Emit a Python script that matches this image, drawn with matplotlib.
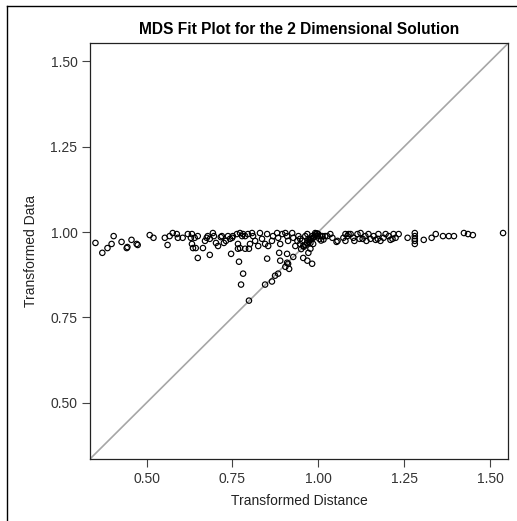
import matplotlib.pyplot as plt
from matplotlib.lines import Line2D

plt.rcParams['font.family'] = ['Liberation Sans', 'DejaVu Sans']

# values
transformed_distance = [
    0.351, 0.371, 0.386, 0.398, 0.404, 0.427, 0.442, 0.444, 0.456, 0.471,
    0.474, 0.509, 0.520, 0.553, 0.561, 0.567, 0.576, 0.588, 0.591, 0.605,
    0.620, 0.629, 0.632, 0.635,
    0.632, 0.640, 0.649, 0.643, 0.649, 0.664, 0.670, 0.675, 0.678, 0.684,
    0.684, 0.693, 0.696, 0.702, 0.708, 0.716, 0.719, 0.725, 0.731, 0.737,
    0.743, 0.746, 0.749, 0.751, 0.763, 0.766, 0.766, 0.769, 0.772, 0.772,
    0.778, 0.781, 0.781, 0.775, 0.787, 0.787, 0.795, 0.798, 0.798, 0.801,
    0.807, 0.810, 0.816, 0.825, 0.830, 0.836, 0.845, 0.845, 0.851, 0.851,
    0.854, 0.865, 0.865, 0.868, 0.874, 0.880, 0.883, 0.883, 0.886, 0.889,
    0.889, 0.895, 0.904, 0.904, 0.909, 0.909, 0.909, 0.912, 0.912, 0.915,
    0.924, 0.927, 0.927, 0.933, 0.939, 0.942, 0.947, 0.947, 0.953, 0.956,
    0.956, 0.962, 0.968, 0.968, 0.971, 0.971, 0.977, 0.977, 0.982, 0.982,
    0.985, 0.985, 0.991, 0.997,
    0.950, 0.958, 0.963, 0.967, 0.972, 0.975, 0.979, 0.983, 0.988, 0.992,
    0.996, 1.000, 1.006, 1.012, 1.020, 1.003, 1.008, 1.015,
    1.026, 1.035, 1.041, 1.053, 1.056, 1.073, 1.079, 1.079, 1.085, 1.088,
    1.094, 1.102, 1.105, 1.114, 1.120, 1.123, 1.129, 1.137, 1.140, 1.146,
    1.152, 1.161, 1.167, 1.173, 1.175, 1.181, 1.190, 1.196, 1.205, 1.210,
    1.216, 1.219, 1.225, 1.234, 1.260, 1.281, 1.281, 1.281, 1.281, 1.281,
    1.307, 1.330, 1.342, 1.363, 1.380, 1.395, 1.424, 1.436, 1.450, 1.538,
]
transformed_data = [
    0.968, 0.939, 0.953, 0.965, 0.988, 0.971, 0.953, 0.956, 0.977, 0.965,
    0.962, 0.991, 0.983, 0.983, 0.962, 0.988, 0.997, 0.994, 0.983, 0.983,
    0.994, 0.983, 0.965, 0.953,
    0.994, 0.983, 0.988, 0.953, 0.924, 0.953, 0.974, 0.983, 0.988, 0.980,
    0.933, 0.997, 0.988, 0.968, 0.959, 0.985, 0.988, 0.968, 0.974, 0.988,
    0.980, 0.936, 0.983, 0.988, 0.994, 0.965, 0.951, 0.913, 0.997, 0.953,
    0.988, 0.994, 0.878, 0.846, 0.988, 0.951, 0.994, 0.951, 0.799, 0.965,
    0.997, 0.988, 0.974, 0.959, 0.997, 0.980, 0.965, 0.846, 0.994, 0.922,
    0.959, 0.974, 0.855, 0.988, 0.872, 0.997, 0.983, 0.878, 0.939, 0.965,
    0.916, 0.994, 0.997, 0.898, 0.988, 0.936, 0.910, 0.974, 0.907, 0.892,
    0.997, 0.983, 0.927, 0.959, 0.974, 0.988, 0.980, 0.965, 0.974, 0.959,
    0.924, 0.988, 0.994, 0.916, 0.980, 0.939, 0.968, 0.951, 0.988, 0.907,
    0.983, 0.965, 0.997, 0.988,
    0.950, 0.957, 0.962, 0.968, 0.971, 0.976, 0.980, 0.982, 0.987, 0.993,
    0.996, 0.994, 0.988, 0.988, 0.988, 0.980, 0.975, 0.978,
    0.988, 0.994, 0.983, 0.971, 0.974, 0.983, 0.994, 0.974, 0.988, 0.994,
    0.994, 0.983, 0.974, 0.994, 0.980, 0.997, 0.980, 0.988, 0.974, 0.994,
    0.980, 0.988, 0.977, 0.980, 0.994, 0.974, 0.983, 0.994, 0.988, 0.977,
    0.980, 0.994, 0.983, 0.994, 0.983, 0.997, 0.988, 0.980, 0.974, 0.965,
    0.977, 0.983, 0.994, 0.988, 0.988, 0.988, 0.997, 0.994, 0.991, 0.997,
]
ticks = [0.50, 0.75, 1.00, 1.25, 1.50]
lo, hi = 0.335, 1.553

fig = plt.figure(figsize=(5.17, 5.21), dpi=100)
ax = fig.add_axes([0.174, 0.119, 0.809, 0.798])

ax.plot([lo, hi], [lo, hi], color='#a6a6a6', lw=1.2, zorder=1)
ax.scatter(transformed_distance, transformed_data, s=15, facecolors='none',
           edgecolors='black', linewidths=0.85, zorder=2)

ax.set_xlim(lo, hi)
ax.set_ylim(lo, hi)
ax.set_xticks(ticks)
ax.set_yticks(ticks)
ax.set_xticklabels(['%.2f' % t for t in ticks])
ax.set_yticklabels(['%.2f' % t for t in ticks])
ax.tick_params(length=6, width=0.8, color='#444444', labelcolor='#333333',
               labelsize=10, pad=3)
for s in ax.spines.values():
    s.set_linewidth(0.9)
    s.set_color('#222222')

ax.set_xlabel('Transformed Distance', fontsize=10, color='#222222', labelpad=6)
ax.set_ylabel('Transformed Data', fontsize=10, color='#222222', labelpad=9)
ax.set_title('MDS Fit Plot for the 2 Dimensional Solution', fontsize=11.2,
             fontweight='bold', pad=7)

# outer frame, only left and top edges show
fig.add_artist(Line2D([6.5 / 517, 6.5 / 517], [0, 1 - 5.5 / 521], color='black', lw=1))
fig.add_artist(Line2D([6.5 / 517, 1], [1 - 5.5 / 521, 1 - 5.5 / 521], color='black', lw=1))

fig.savefig('out.png', dpi=100)
